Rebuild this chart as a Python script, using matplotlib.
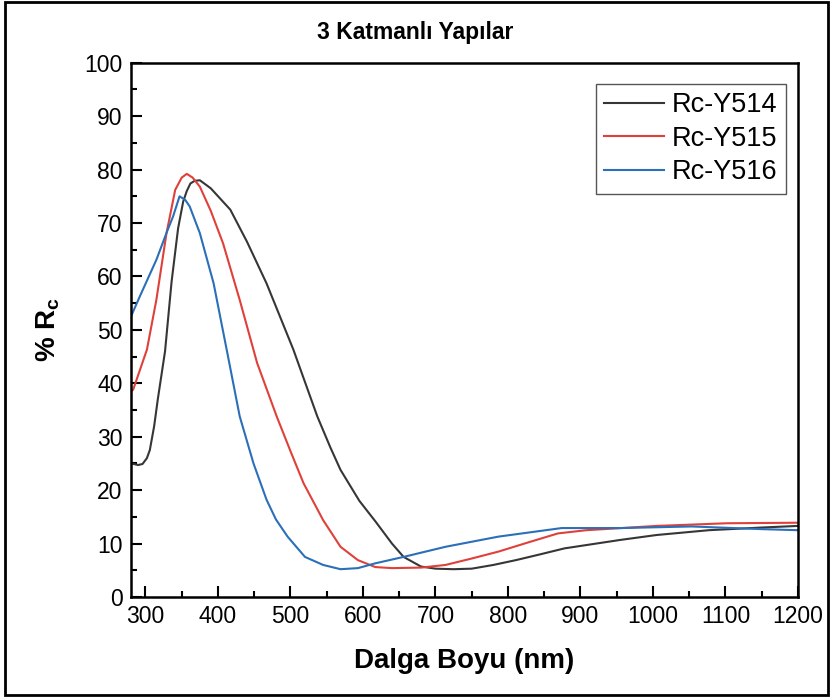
import matplotlib
matplotlib.use('Agg')
import matplotlib.pyplot as plt
from matplotlib.patches import Rectangle

plt.rcParams['font.family'] = ['Liberation Sans', 'DejaVu Sans']
plt.rcParams['mathtext.fontset'] = 'custom'
plt.rcParams['mathtext.rm'] = 'Liberation Sans'
plt.rcParams['mathtext.bf'] = 'Liberation Sans:bold'

# data
x514 = [280, 290, 296, 302, 306, 312, 317, 327, 336, 345, 352, 357, 362, 368, 375, 390, 417, 440, 467, 504, 537, 555, 569, 595, 618, 640, 656, 680, 700, 725, 750, 780, 811, 845, 878, 956, 1005, 1077, 1150, 1200]
y514 = [25.0, 24.7, 24.9, 26.0, 27.5, 32, 37, 46, 59, 69, 74, 76, 77.4, 77.9, 78, 76.5, 72.5, 66.5, 58.7, 46.3, 33.8, 28.0, 23.8, 18.0, 14.0, 10.0, 7.5, 5.7, 5.3, 5.2, 5.3, 6.0, 6.9, 8.0, 9.1, 10.7, 11.6, 12.5, 13.0, 13.3]

x515 = [280, 283, 302, 315, 329, 341, 350, 357, 365, 375, 390, 407, 430, 454, 481, 500, 518, 545, 569, 593, 617, 640, 680, 714, 750, 787, 830, 869, 908, 1005, 1102, 1200]
y515 = [38.5, 38.8, 46.3, 55.6, 68.1, 76.2, 78.5, 79.2, 78.5, 76.8, 72.3, 66.2, 55.6, 43.8, 33.8, 27.3, 21.3, 14.4, 9.4, 6.9, 5.6, 5.4, 5.5, 6.0, 7.2, 8.5, 10.3, 11.9, 12.5, 13.3, 13.8, 13.9]

x516 = [280, 292, 315, 330, 338, 347, 355, 361, 375, 394, 412, 430, 449, 467, 480, 496, 520, 545, 569, 593, 617, 656, 714, 787, 874, 956, 1053, 1150, 1200]
y516 = [52.5, 56.2, 63.1, 68.5, 71.2, 75, 74.3, 73.1, 68.1, 58.7, 46.3, 33.8, 25, 18.2, 14.5, 11.3, 7.5, 6.0, 5.2, 5.4, 6.3, 7.5, 9.4, 11.3, 12.9, 12.9, 13.2, 12.7, 12.5]

labels = ['Rc-Y514', 'Rc-Y515', 'Rc-Y516']
colors = ['#363636', '#e0403a', '#2b6fb8']

fig = plt.figure(figsize=(8.3, 6.97), dpi=100)
ax = fig.add_axes([0.1578, 0.1435, 0.8036, 0.7665])

ax.plot(x514, y514, color=colors[0], lw=1.5, label=labels[0])
ax.plot(x515, y515, color=colors[1], lw=1.5, label=labels[1])
ax.plot(x516, y516, color=colors[2], lw=1.5, label=labels[2])

ax.set_xlim(280, 1200)
ax.set_ylim(0, 100)
ax.set_xticks(range(300, 1201, 100))
ax.set_xticks(range(350, 1200, 100), minor=True)
ax.set_yticks(range(0, 101, 10))
ax.set_yticks(range(5, 100, 10), minor=True)
ax.tick_params(which='both', direction='in', width=1.5, labelsize=16.5, top=False, right=False)
ax.tick_params(which='major', length=8, pad=6)
ax.tick_params(which='minor', length=4)
for s in ax.spines.values():
    s.set_linewidth(1.8)

ax.set_xlabel('Dalga Boyu (nm)', fontsize=20, fontweight='bold', labelpad=14)
ax.set_ylabel(r'% R$_\mathbf{c}$', fontsize=20, fontweight='bold', labelpad=16)
fig.text(0.5, 0.953, '3 Katmanlı Yapılar', ha='center', va='center', fontsize=16.5, fontweight='bold')

leg = ax.legend(loc='upper right', bbox_to_anchor=(0.982, 0.960), borderaxespad=0,
                fontsize=19.5, handlelength=2.2, handletextpad=0.3, labelspacing=0.28,
                fancybox=False, framealpha=1, borderpad=0.3)
leg.get_frame().set_edgecolor('#555555')
leg.get_frame().set_linewidth(1.0)

fig.patches.append(Rectangle((0.006, 0.003), 0.991, 0.994, transform=fig.transFigure,
                             fill=False, edgecolor='black', linewidth=2))

fig.savefig('out.png', dpi=100)
